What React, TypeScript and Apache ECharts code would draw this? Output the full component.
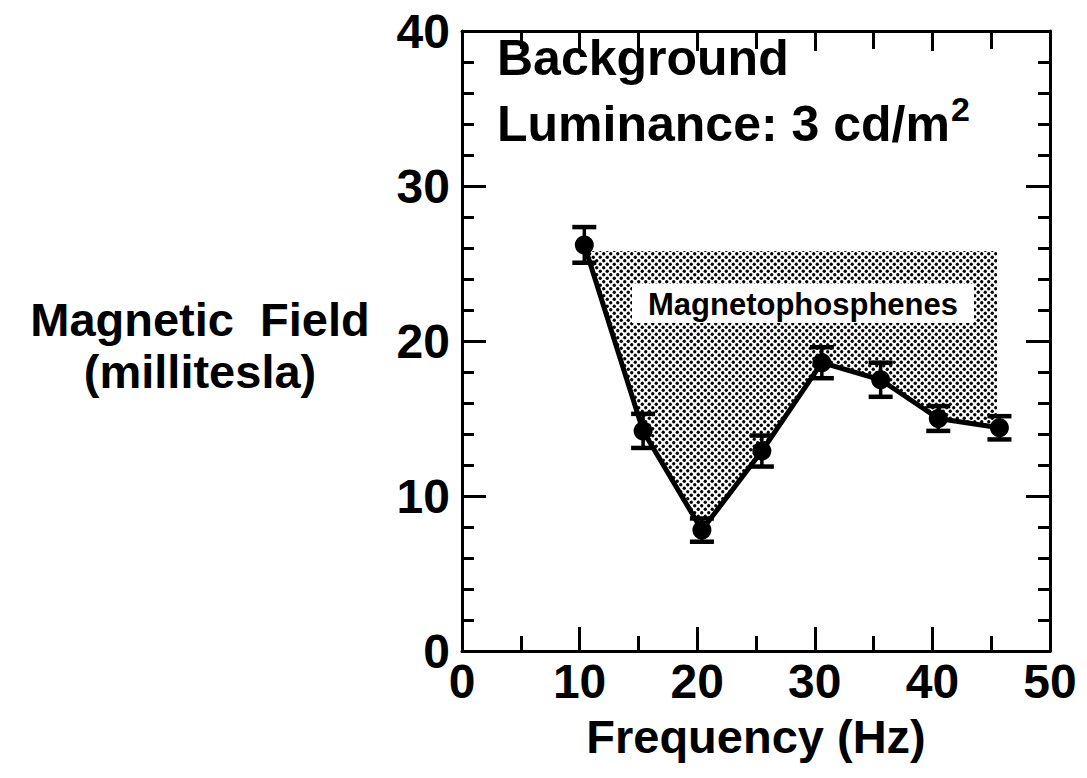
import React, { useEffect, useRef } from "react";
import * as echarts from "echarts";

// ---- data ----
const FREQ_HZ = [10.4, 15.4, 20.4, 25.5, 30.6, 35.6, 40.5, 45.7];
const FIELD_MT = [26.2, 14.2, 7.8, 12.9, 18.6, 17.5, 15.0, 14.4];
const ERR_MT = [1.15, 1.1, 0.75, 1.0, 1.0, 1.1, 0.8, 0.75];
const SHADE_TOP = 25.8; // upper edge of the "Magnetophosphenes" region (mT)
const SHADE_RIGHT = 45.5; // right edge of the region (Hz)
const X_RANGE = [0, 50];
const Y_RANGE = [0, 40];

const FONT = '"Liberation Sans", Arial, Helvetica, sans-serif';

function makeDotPattern(): HTMLCanvasElement {
  const s = 7;
  const c = document.createElement("canvas");
  c.width = s;
  c.height = s;
  const ctx = c.getContext("2d")!;
  ctx.clearRect(0, 0, s, s);
  ctx.fillStyle = "#000";
  ctx.beginPath();
  ctx.arc(1.75, 1.75, 1.65, 0, Math.PI * 2);
  ctx.fill();
  ctx.beginPath();
  ctx.arc(5.25, 5.25, 1.65, 0, Math.PI * 2);
  ctx.fill();
  return c;
}

function measure(text: string, font: string): number {
  const c = document.createElement("canvas");
  const ctx = c.getContext("2d")!;
  ctx.font = font;
  return ctx.measureText(text).width;
}

function shadePolygon(): number[][] {
  const [x0, x1] = [FREQ_HZ[0], FREQ_HZ[1]];
  const [y0, y1] = [FIELD_MT[0], FIELD_MT[1]];
  const t = (y0 - SHADE_TOP) / (y0 - y1);
  const xc = x0 + t * (x1 - x0);
  const n = FREQ_HZ.length;
  let yr = FIELD_MT[n - 1];
  for (let i = 0; i < n - 1; i++) {
    if (SHADE_RIGHT >= FREQ_HZ[i] && SHADE_RIGHT <= FREQ_HZ[i + 1]) {
      const u = (SHADE_RIGHT - FREQ_HZ[i]) / (FREQ_HZ[i + 1] - FREQ_HZ[i]);
      yr = FIELD_MT[i] + u * (FIELD_MT[i + 1] - FIELD_MT[i]);
    }
  }
  const pts: number[][] = [[xc, SHADE_TOP], [SHADE_RIGHT, SHADE_TOP], [SHADE_RIGHT, yr]];
  for (let i = n - 1; i >= 1; i--) {
    if (FREQ_HZ[i] <= SHADE_RIGHT) pts.push([FREQ_HZ[i], FIELD_MT[i]]);
  }
  return pts;
}

export default function App() {
  const ref = useRef<HTMLDivElement>(null);

  useEffect(() => {
    if (!ref.current) return;
    const chart = echarts.init(ref.current, undefined, { renderer: "svg" });
    const pattern = makeDotPattern();
    const poly = shadePolygon();
    const lumText = "Luminance: 3 cd/m";
    const lumW = measure(lumText, `bold 50px ${FONT}`);

    const axisLabel = {
      fontFamily: FONT,
      fontWeight: "bold" as const,
      fontSize: 48,
      color: "#000",
    };

    const option: any = {
      animation: false,
      backgroundColor: "#fff",
      grid: { left: 462, top: 31, right: 37, bottom: 127, containLabel: false },
      xAxis: [
        {
          type: "value",
          min: X_RANGE[0],
          max: X_RANGE[1],
          interval: 10,
          position: "bottom",
          name: "Frequency (Hz)",
          nameLocation: "middle",
          nameGap: 62,
          nameTextStyle: { fontFamily: FONT, fontWeight: "bold", fontSize: 47, color: "#000" },
          axisLine: { show: true, onZero: false, lineStyle: { color: "#000", width: 3 } },
          axisTick: { show: true, inside: true, length: 24, lineStyle: { color: "#000", width: 3 } },
          minorTick: { show: true, splitNumber: 2, length: 15, lineStyle: { color: "#000", width: 3 } },
          axisLabel: { ...axisLabel, margin: 6 },
          splitLine: { show: false },
        },
        {
          type: "value",
          min: X_RANGE[0],
          max: X_RANGE[1],
          interval: 10,
          position: "top",
          axisLine: { show: true, onZero: false, lineStyle: { color: "#000", width: 3 } },
          axisTick: { show: true, inside: true, length: 20, lineStyle: { color: "#000", width: 3 } },
          minorTick: { show: true, splitNumber: 2, length: 18, lineStyle: { color: "#000", width: 3 } },
          axisLabel: { show: false },
          splitLine: { show: false },
        },
      ],
      yAxis: [
        {
          type: "value",
          min: Y_RANGE[0],
          max: Y_RANGE[1],
          interval: 10,
          position: "left",
          axisLine: { show: true, onZero: false, lineStyle: { color: "#000", width: 3 } },
          axisTick: { show: true, inside: true, length: 24, lineStyle: { color: "#000", width: 3 } },
          minorTick: { show: true, splitNumber: 5, length: 12, lineStyle: { color: "#000", width: 3 } },
          axisLabel: { ...axisLabel, margin: 12 },
          splitLine: { show: false },
        },
        {
          type: "value",
          min: Y_RANGE[0],
          max: Y_RANGE[1],
          interval: 10,
          position: "right",
          axisLine: { show: true, onZero: false, lineStyle: { color: "#000", width: 3 } },
          axisTick: { show: true, inside: true, length: 24, lineStyle: { color: "#000", width: 3 } },
          minorTick: { show: true, splitNumber: 5, length: 12, lineStyle: { color: "#000", width: 3 } },
          axisLabel: { show: false },
          splitLine: { show: false },
        },
      ],
      graphic: [
        {
          type: "text",
          left: 497,
          top: 33,
          z: 100,
          style: { text: "Background", fontFamily: FONT, fontWeight: "bold", fontSize: 50, fill: "#000" },
        },
        {
          type: "text",
          left: 497,
          top: 99,
          z: 100,
          style: { text: lumText, fontFamily: FONT, fontWeight: "bold", fontSize: 50, fill: "#000" },
        },
        {
          type: "text",
          left: 497 + lumW + 1,
          top: 92,
          z: 100,
          style: { text: "2", fontFamily: FONT, fontWeight: "bold", fontSize: 34, fill: "#000" },
        },
        {
          type: "group",
          left: 632,
          top: 284,
          z: 100,
          children: [
            { type: "rect", z: 100, shape: { x: 0, y: 0, width: 342, height: 39 }, style: { fill: "#fff" } },
            {
              type: "text",
              z: 101,
              x: 171,
              y: 20,
              style: {
                text: "Magnetophosphenes",
                fontFamily: FONT,
                fontWeight: "bold",
                fontSize: 31,
                fill: "#000",
                align: "center",
                verticalAlign: "middle",
              },
            },
          ],
        },
        {
          type: "text",
          x: 200,
          y: 345,
          z: 100,
          style: {
            text: "Magnetic  Field\n(millitesla)",
            fontFamily: FONT,
            fontWeight: "bold",
            fontSize: 47,
            lineHeight: 52,
            fill: "#000",
            align: "center",
            verticalAlign: "middle",
          },
        },
      ],
      series: [
        {
          type: "custom",
          name: "Magnetophosphenes",
          coordinateSystem: "cartesian2d",
          xAxisIndex: 0,
          yAxisIndex: 0,
          z: 1,
          silent: true,
          data: [[0, 0]],
          renderItem: (_params: any, api: any) => ({
            type: "polygon",
            shape: { points: poly.map((p) => api.coord(p)) },
            style: { fill: { image: pattern, repeat: "repeat" }, stroke: "none" },
          }),
        },
        {
          type: "line",
          name: "Threshold",
          xAxisIndex: 0,
          yAxisIndex: 0,
          z: 3,
          data: FREQ_HZ.map((x, i) => [x, FIELD_MT[i]]),
          lineStyle: { color: "#000", width: 5 },
          itemStyle: { color: "#000" },
          symbol: "circle",
          symbolSize: 19,
          showSymbol: true,
        },
        {
          type: "custom",
          name: "Error",
          coordinateSystem: "cartesian2d",
          xAxisIndex: 0,
          yAxisIndex: 0,
          z: 4,
          silent: true,
          data: FREQ_HZ.map((x, i) => [x, FIELD_MT[i], ERR_MT[i]]),
          renderItem: (_params: any, api: any) => {
            const x = api.value(0);
            const y = api.value(1);
            const e = api.value(2);
            const top = api.coord([x, y + e]);
            const bot = api.coord([x, y - e]);
            const hw = 12;
            const cap = { stroke: "#000", lineWidth: 4.5 };
            return {
              type: "group",
              children: [
                { type: "line", shape: { x1: top[0], y1: top[1], x2: bot[0], y2: bot[1] }, style: { stroke: "#000", lineWidth: 3.5 } },
                { type: "line", shape: { x1: top[0] - hw, y1: top[1], x2: top[0] + hw, y2: top[1] }, style: cap },
                { type: "line", shape: { x1: bot[0] - hw, y1: bot[1], x2: bot[0] + hw, y2: bot[1] }, style: cap },
              ],
            };
          },
        },
      ],
    };
    chart.setOption(option);
    return () => chart.dispose();
  }, []);

  return (
    <div
      ref={ref}
      style={{ position: "fixed", left: 0, top: 0, width: 1087, height: 778, background: "#fff" }}
    />
  );
}
